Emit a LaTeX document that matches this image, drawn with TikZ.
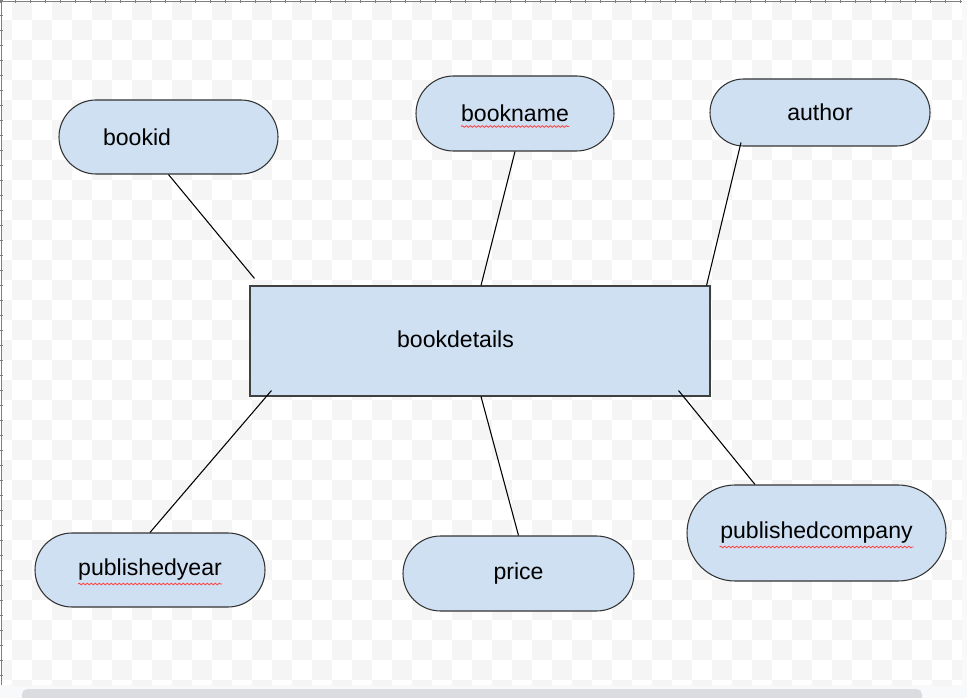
\documentclass[tikz,border=0pt]{standalone}
\usepackage{fontspec}
\setmainfont{Liberation Sans}
\usetikzlibrary{calc,positioning,shapes.misc,decorations.pathmorphing}
\definecolor{attrblue}{RGB}{206,224,242}
\definecolor{gridgray}{RGB}{245,245,245}
\definecolor{bargray}{RGB}{218,220,224}
\definecolor{paneside}{RGB}{248,249,250}
\tikzstyle{attr}   = [rounded rectangle, draw=black!80, line width=0.8pt, fill=attrblue, inner sep=0pt]
\tikzstyle{entity} = [rectangle, draw=black!75, line width=0.8pt, fill=attrblue, inner sep=0pt]
\tikzstyle{link}   = [line width=0.8pt, black]
\tikzstyle{squig}  = [red!75, line width=0.6pt, decorate, decoration={snake, amplitude=0.6pt, segment length=3pt}]

\begin{document}
\begin{tikzpicture}[x=0.75pt, y=-0.75pt, font=\fontsize{17.3}{20}\selectfont,
		px size/.style 2 args={minimum width={#1*0.75pt}, minimum height={#2*0.75pt}}]

	\useasboundingbox (0,0) rectangle (967,698);
	% canvas
	\fill[paneside] (0,0) rectangle (967,698);
	\fill[white] (0,0) rectangle (962,685);
	\begin{scope}
		\clip (2,2) rectangle (962,685);
		\foreach \i in {-1,...,47}
		\foreach \j in {0,...,34}
			{\ifodd\numexpr\i+\j\relax\else
				\fill[gridgray] ({12+20*\i},{20*\j}) rectangle +(20,20);
				\fi}
	\end{scope}
	\draw[gray, line width=0.6pt] (0,1) -- (962,1);
	\draw[gray, line width=0.6pt] (1,0) -- (1,685);
	\foreach \k in {0,...,64} \draw[gray, line width=0.4pt] ({15*\k},0) -- ++(0,3);
	\foreach \k in {0,...,45} \draw[gray, line width=0.4pt] (0,{15*\k}) -- ++(3,0);
	\fill[bargray, rounded corners=4pt] (22,689) rectangle (922,706);

	% entity and attributes
	\node[entity, px size={460}{110}, label={[xshift=-18.4pt, yshift=1pt]center:bookdetails}] (details) at (480,341) {};
	\node[attr, px size={219}{74}, label={[xshift=-23.6pt]center:bookid}] (bookid) at (168.5,137) {};
	\node[attr, px size={198}{75}] (bookname) at (515,113.5) {bookname};
	\node[attr, px size={220}{67}] (author) at (820,112.5) {author};
	\node[attr, px size={230}{74}] (year) at (150,570) {publishedyear};
	\node[attr, px size={231}{75}] (price) at (518.5,573.5) {price};
	\node[attr, px size={259}{96}] (company) at (816.5,533) {publishedcompany};

	% links
	\coordinate (idend) at ($(details.north west)+(5,-7)$);
	\draw[link] (bookid.south) -- (idend);
	\draw[link] (bookname.south) -- ($(details.north)+(1,0)$);
	\draw[link] ($(author.south)+(-79,-4)$) -- ($(details.north east)+(-4,0)$);
	\draw[link] ($(details.south west)+(22,-6)$) -- (year.north);
	\draw[link] ($(details.south)+(1,0)$) -- (price.north);
	\draw[link] ($(details.south east)+(-32,-6)$) -- ($(company.north)+(-61.5,0)$);

	% spell-check marks
	\draw[squig] ($(bookname)+(-54,13)$) -- ++(108,0);
	\draw[squig] ($(year)+(-72,14)$) -- ++(144,0);
	\draw[squig] ($(company)+(-97,14)$) -- ++(194,0);
\end{tikzpicture}
\end{document}
